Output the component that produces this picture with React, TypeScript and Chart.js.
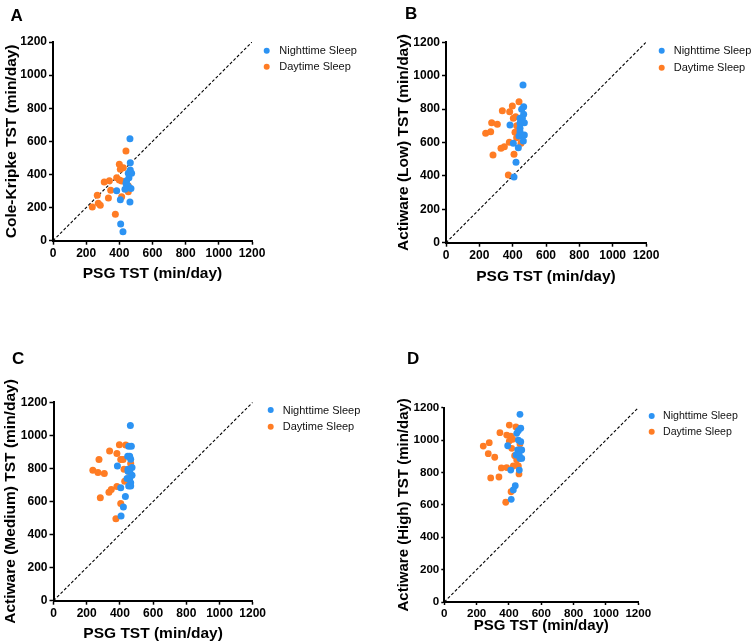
import React, { useEffect, useRef } from 'react';
import { Chart, registerables } from 'chart.js';

Chart.register(...registerables);

const FONT = "'Liberation Sans', Arial, Helvetica, sans-serif";
const BLUE = '#2C93F3';
const ORANGE = '#FF7C24';

// ---------- labels ----------
const seriesNames = ['Nighttime Sleep', 'Daytime Sleep'];
const axisMin = 0;
const axisMax = 1200;
const axisStep = 200;
const xAxisTitle = 'PSG TST (min/day)';
const panelLetters = ['A', 'B', 'C', 'D'];
const yAxisTitles = [
  'Cole-Kripke TST (min/day)',
  'Actiware (Low) TST (min/day)',
  'Actiware (Medium) TST (min/day)',
  'Actiware (High) TST (min/day)',
];

// ---------- Panel A: Cole-Kripke ----------
const aNightPSG = [464, 466, 466, 454, 474, 458, 444, 440, 452, 384, 434, 470, 406, 464, 408, 422];
const aNightEst = [616, 471, 427, 407, 407, 380, 362, 345, 330, 302, 310, 315, 248, 234, 101, 54];
const aDayPSG = [440, 400, 406, 424, 384, 400, 414, 340, 309, 454, 348, 454, 414, 267, 334, 273, 285, 237, 376];
const aDayEst = [542, 461, 431, 440, 380, 367, 361, 362, 354, 332, 304, 295, 266, 274, 258, 226, 214, 203, 159];

// ---------- Panel B: Actiware Low ----------
const bNightPSG = [462, 466, 454, 466, 444, 458, 450, 470, 444, 384, 444, 444, 438, 470, 464, 404, 434, 420, 408];
const bNightEst = [944, 814, 799, 769, 745, 745, 725, 719, 715, 705, 685, 665, 639, 645, 609, 595, 569, 481, 393];
const bDayPSG = [438, 398, 338, 382, 418, 404, 274, 308, 424, 238, 268, 414, 424, 380, 350, 330, 450, 408, 282, 374];
const bDayEst = [844, 819, 790, 784, 754, 745, 719, 709, 701, 655, 665, 661, 629, 601, 575, 565, 595, 529, 525, 405];

// ---------- Panel C: Actiware Medium ----------
const cNightPSG = [463, 453, 469, 447, 459, 465, 385, 473, 449, 449, 459, 473, 443, 459, 465, 453, 465, 405, 433, 421, 407];
const cNightEst = [1059, 934, 934, 874, 874, 856, 815, 806, 795, 783, 783, 759, 739, 739, 713, 693, 693, 683, 630, 566, 513];
const cDayPSG = [397, 435, 338, 382, 405, 419, 274, 465, 425, 237, 268, 306, 453, 429, 382, 348, 334, 282, 405, 376];
const cDayEst = [944, 942, 906, 890, 854, 854, 854, 830, 795, 789, 775, 769, 781, 723, 691, 673, 656, 622, 588, 495];

// ---------- Panel D: Actiware High ----------
const dNightPSG = [468, 473, 458, 448, 473, 458, 392, 468, 454, 479, 444, 464, 468, 479, 464, 411, 439, 427, 414];
const dNightEst = [1159, 1073, 1058, 1042, 990, 1000, 965, 939, 939, 939, 908, 908, 887, 887, 815, 815, 718, 692, 634];
const dDayPSG = [402, 443, 344, 386, 411, 423, 402, 468, 241, 278, 417, 272, 435, 312, 448, 427, 458, 353, 386, 462, 338, 287, 413, 380];
const dDayEst = [1093, 1081, 1046, 1031, 1025, 1005, 994, 976, 963, 984, 949, 916, 904, 894, 877, 840, 840, 828, 830, 791, 772, 766, 681, 616];

const panelData = [
  { nx: aNightPSG, ny: aNightEst, dx: aDayPSG, dy: aDayEst },
  { nx: bNightPSG, ny: bNightEst, dx: bDayPSG, dy: bDayEst },
  { nx: cNightPSG, ny: cNightEst, dx: cDayPSG, dy: cDayEst },
  { nx: dNightPSG, ny: dNightEst, dx: dDayPSG, dy: dDayEst },
];

// ---------- layout (page pixels) ----------
type Layout = {
  l: number; r: number; t: number; b: number;
  yTitleX: number; xTitleY: number;
  tickFont: number; titleFont: number; tickLen: number; tickPad: number;
  legDotX: number; legTextX: number; legY1: number; legY2: number; legFont: number;
  letterX: number; letterY: number; letterFont: number; pointR: number;
};

const layouts: Layout[] = [
  { l: 53, r: 252, t: 42, b: 240.7, yTitleX: 12, xTitleY: 273.3, tickFont: 12, titleFont: 15.5, tickLen: 4, tickPad: 2,
    legDotX: 266.7, legTextX: 279.3, legY1: 50.7, legY2: 66.7, legFont: 11, letterX: 10.5, letterY: 20.7, letterFont: 17, pointR: 3.5 },
  { l: 446, r: 646, t: 42.3, b: 242.7, yTitleX: 404, xTitleY: 276.7, tickFont: 12, titleFont: 15.5, tickLen: 4, tickPad: 2,
    legDotX: 661.7, legTextX: 673.7, legY1: 50.7, legY2: 67.7, legFont: 11, letterX: 405, letterY: 19, letterFont: 17, pointR: 3.5 },
  { l: 53.5, r: 252.7, t: 402.3, b: 600.7, yTitleX: 11, xTitleY: 633.3, tickFont: 12, titleFont: 15.5, tickLen: 4, tickPad: 2,
    legDotX: 270.7, legTextX: 282.7, legY1: 410, legY2: 426.7, legFont: 11, letterX: 12, letterY: 364, letterFont: 17, pointR: 3.5 },
  { l: 444.3, r: 638.3, t: 407.7, b: 602, yTitleX: 404, xTitleY: 626, tickFont: 11.6, titleFont: 15, tickLen: 3, tickPad: 2,
    legDotX: 651.7, legTextX: 663, legY1: 416, legY2: 431.7, legFont: 10.6, letterX: 407, letterY: 364, letterFont: 17, pointR: 3.4 },
];

const W = 753;
const H = 644;

function toPoints(xs: number[], ys: number[]) {
  return xs.map((x, i) => ({ x, y: ys[i] }));
}

function buildChart(canvas: HTMLCanvasElement, idx: number) {
  const L = layouts[idx];
  const D = panelData[idx];
  const yLH = L.titleFont * 1.2;
  const padLeft = L.yTitleX - yLH / 2;
  const yWidth = L.l - padLeft;
  const xHeight = L.xTitleY + yLH / 2 - L.b;
  const padBottom = H - L.b - xHeight;

  const overlay = {
    id: 'overlay' + idx,
    afterDraw(chart: any) {
      const ctx = chart.ctx as CanvasRenderingContext2D;
      ctx.save();
      ctx.fillStyle = '#000';
      ctx.textAlign = 'left';
      ctx.textBaseline = 'alphabetic';
      ctx.font = `bold ${L.letterFont}px ${FONT}`;
      ctx.fillText(panelLetters[idx], L.letterX, L.letterY);
      const rows = [
        { name: seriesNames[0], color: BLUE, y: L.legY1 },
        { name: seriesNames[1], color: ORANGE, y: L.legY2 },
      ];
      ctx.font = `${L.legFont}px ${FONT}`;
      ctx.textBaseline = 'middle';
      for (const row of rows) {
        ctx.beginPath();
        ctx.fillStyle = row.color;
        ctx.arc(L.legDotX, row.y, 3, 0, Math.PI * 2);
        ctx.fill();
        ctx.fillStyle = '#111';
        ctx.fillText(row.name, L.legTextX, row.y + 0.5);
      }
      ctx.restore();
    },
  };

  const axisCommon = (title: string, isY: boolean) => ({
    type: 'linear',
    min: axisMin,
    max: axisMax,
    ticks: {
      stepSize: axisStep,
      autoSkip: false,
      maxRotation: 0,
      padding: L.tickPad,
      color: '#000',
      font: { family: FONT, size: L.tickFont, weight: 'bold' },
      callback: (v: any) => String(v),
    },
    grid: {
      display: true,
      drawOnChartArea: false,
      drawTicks: true,
      tickLength: L.tickLen,
      tickColor: '#000',
      tickWidth: 1.5,
      color: '#000',
    },
    border: { display: true, color: '#000', width: 2 },
    title: {
      display: true,
      text: title,
      color: '#000',
      padding: { top: 0, bottom: 0 },
      font: { family: FONT, size: L.titleFont, weight: 'bold' },
    },
    afterFit: (scale: any) => {
      if (isY) scale.width = yWidth;
      else scale.height = xHeight;
    },
  });

  return new Chart(canvas, {
    type: 'scatter',
    data: {
      datasets: [
        {
          label: seriesNames[0],
          data: toPoints(D.nx, D.ny),
          backgroundColor: BLUE,
          borderColor: BLUE,
          borderWidth: 0,
          pointRadius: L.pointR,
        },
        {
          label: seriesNames[1],
          data: toPoints(D.dx, D.dy),
          backgroundColor: ORANGE,
          borderColor: ORANGE,
          borderWidth: 0,
          pointRadius: L.pointR,
        },
        {
          label: 'identity',
          data: [{ x: axisMin, y: axisMin }, { x: axisMax, y: axisMax }],
          showLine: true,
          borderColor: '#000',
          borderWidth: 1.1,
          borderDash: [3, 2],
          pointRadius: 0,
          fill: false,
        },
      ],
    } as any,
    options: {
      animation: false,
      responsive: false,
      maintainAspectRatio: false,
      devicePixelRatio: 1,
      events: [],
      layout: {
        padding: { left: padLeft, right: W - L.r, top: L.t, bottom: padBottom },
      },
      plugins: {
        legend: { display: false },
        tooltip: { enabled: false },
        title: { display: false },
      },
      scales: {
        x: { ...axisCommon(xAxisTitle, false), position: 'bottom' },
        y: { ...axisCommon(yAxisTitles[idx], true), position: 'left' },
      } as any,
    },
    plugins: [overlay],
  } as any);
}

function Panel({ idx }: { idx: number }) {
  const ref = useRef<HTMLCanvasElement | null>(null);
  useEffect(() => {
    if (!ref.current) return;
    const chart = buildChart(ref.current, idx);
    return () => chart.destroy();
  }, [idx]);
  return (
    <canvas
      ref={ref}
      width={W}
      height={H}
      style={{ position: 'absolute', left: 0, top: 0, width: W, height: H }}
    />
  );
}

export default function App() {
  return (
    <div style={{ position: 'absolute', left: 0, top: 0, width: W, height: H, background: '#fff', overflow: 'hidden' }}>
      {[0, 1, 2, 3].map((i) => (
        <Panel key={i} idx={i} />
      ))}
    </div>
  );
}
